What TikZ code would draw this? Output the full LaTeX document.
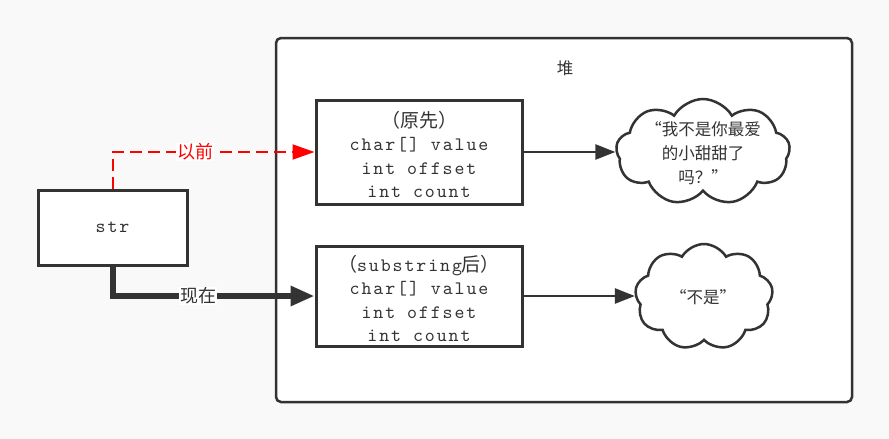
\documentclass[tikz,border=0pt]{standalone}
\usepackage{fontspec}
\setmainfont{Noto Sans CJK SC}
\newfontfamily\codefont[Extension=.otf, LetterSpace=10]{lmmono10-regular}
\newfontfamily\zhfont{Noto Sans CJK SC}
\usetikzlibrary{arrows.meta,shapes.symbols,positioning}
\definecolor{linegray}{HTML}{333333}
\definecolor{pagebg}{HTML}{F9F9F9}
\newcommand{\zh}[1]{{\zhfont #1}}
\newcommand{\topgap}{\rule{0pt}{21pt}}

\begin{document}
\begin{tikzpicture}[x=1pt,y=-1pt]
    \tikzset{box/.style={draw=linegray, line width=3pt, fill=white,
            inner sep=0pt, align=center, text=linegray,
            font=\codefont\fontsize{19}{23.5}\selectfont}}
    \tikzset{heapbox/.style={draw=linegray, line width=2.5pt, fill=white,
            rounded corners=5pt}}
    \tikzset{puff/.style={cloud, cloud puffs=9, cloud puff arc=120,
            cloud ignores aspect, draw=linegray, line width=2.5pt, fill=white}}
    \tikzset{zhtext/.style={align=center, text=linegray,
            font=\zhfont\fontsize{16.5}{24}\selectfont}}
    \tikzset{link/.style={draw=linegray, line width=2.5pt,
            -{Triangle[length=20pt, width=15pt]}}}
    \fill[pagebg] (0,0) rectangle (889,439);
    \useasboundingbox (0,0) rectangle (889,439);
    % heap
    \draw[heapbox] (276,38) rectangle (852,402);
    \node[zhtext] (heaplabel) at (565,68) {堆};
    % objects
    \node[box, minimum width=206pt, minimum height=104pt] (old) at (419,152)
        {\topgap\zh{（原先）}\\char[] value\\int offset\\int count};
    \node[box, minimum width=206pt, minimum height=100pt] (new) at (419,296)
        {\topgap\zh{（}substring\zh{后）}\\char[] value\\int offset\\int count};
    \node[box, minimum width=149pt, minimum height=75pt] (str) at (112.5,227.5) {str};
    % strings
    \node[puff, minimum width=174pt, minimum height=106pt] (bigcloud) at (703,152) {};
    \node[zhtext] (bigtext) at (703,153) {“我不是你最爱\\的小甜甜了\\吗？”};
    \node[puff, minimum width=138pt, minimum height=106pt] (smallcloud) at (704,297) {};
    \node[zhtext] (smalltext) at (703,297) {“不是”};
    % references
    \draw[link] (old.east) -- (old.east -| bigcloud.west);
    \draw[link] (new.east) -- (new.east -| smallcloud.west);
    \draw[red, line width=2pt, dash pattern=on 12pt off 6pt,
        -{Triangle[length=22pt, width=15pt]}] (str.north) |- (old.west)
        node[pos=0.705, fill=white, inner sep=1pt, text=red,
            font=\zhfont\fontsize{18}{20}\selectfont] (before) {以前};
    \draw[draw=linegray, line width=6pt,
        -{Triangle[length=24pt, width=19pt]}] (str.south) |- (new.west)
        node[pos=0.712, fill=white, inner sep=1pt, text=linegray,
            font=\zhfont\fontsize{18}{20}\selectfont] (now) {现在};
\end{tikzpicture}
\end{document}
